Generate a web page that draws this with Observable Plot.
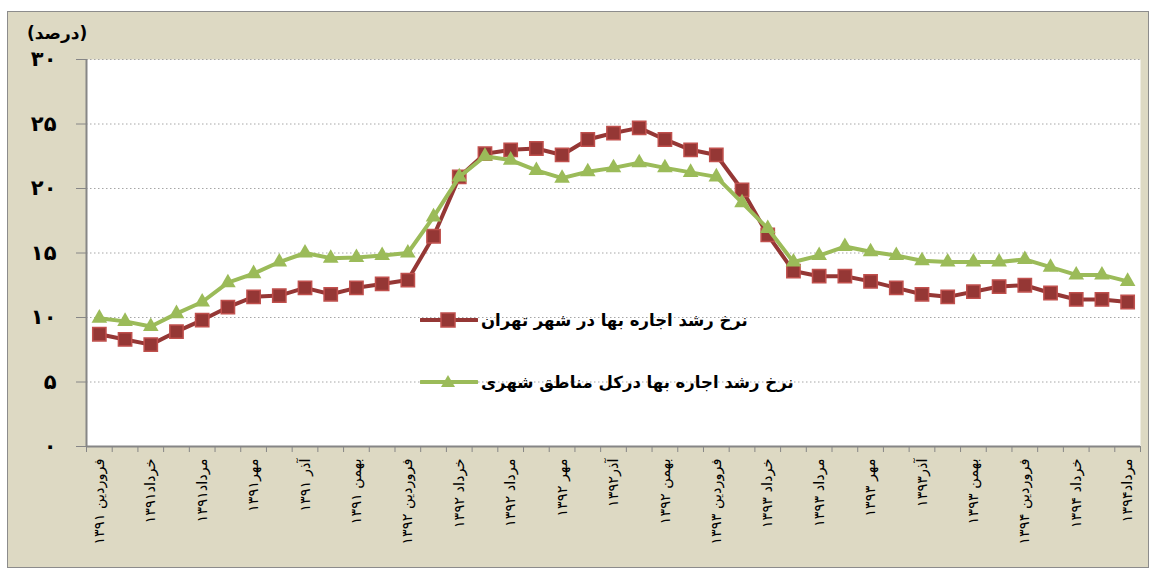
<!DOCTYPE html>
<html><head><meta charset="utf-8">
<script src="https://cdn.jsdelivr.net/npm/d3@7"></script>
<script src="https://cdn.jsdelivr.net/npm/@observablehq/plot@0.6"></script>
<style>
body{margin:0;background:#fff;font-family:"DejaVu Sans",sans-serif;}
#wrap{position:relative;width:1158px;height:572px;}
#bg{position:absolute;left:7px;top:11px;width:1140px;height:555px;background:#DDD9C3;border:1px solid #8C8C8C;}
#chart{position:absolute;left:0;top:0;}
#ylab{position:absolute;left:27px;top:23px;font-weight:bold;font-size:17px;direction:rtl;color:#000;}
.leg{position:absolute;left:420px;display:flex;align-items:center;font-weight:bold;font-size:16.5px;color:#000;}
.leg span{direction:rtl;margin-left:3px;}
</style></head>
<body>
<div id="wrap">
  <div id="bg"></div>
  <div id="chart"></div>
  <div id="ylab">(درصد)</div>
  <div class="leg" id="leg1" style="top:310px;"></div>
  <div class="leg" id="leg2" style="top:372px;"></div>
</div>
<script>
const monthLabels = [
  "فروردین ۱۳۹۱","خرداد۱۳۹۱","مرداد۱۳۹۱","مهر۱۳۹۱","آذر ۱۳۹۱","بهمن ۱۳۹۱",
  "فروردین ۱۳۹۲","خرداد ۱۳۹۲","مرداد ۱۳۹۲","مهر ۱۳۹۲","آذر۱۳۹۲","بهمن ۱۳۹۲",
  "فروردین ۱۳۹۳","خرداد ۱۳۹۳","مرداد ۱۳۹۳","مهر ۱۳۹۳","آذر۱۳۹۳","بهمن ۱۳۹۳",
  "فروردین ۱۳۹۴","خرداد ۱۳۹۴","مرداد۱۳۹۴"
];
const seriesNames = ["نرخ رشد اجاره بها در شهر تهران", "نرخ رشد اجاره بها درکل مناطق شهری"];
const tehran = [8.7, 8.3, 7.9, 8.9, 9.8, 10.8, 11.6, 11.7, 12.3, 11.8, 12.3, 12.6, 12.9,
  16.3, 20.9, 22.7, 23.0, 23.1, 22.6, 23.8, 24.3, 24.7, 23.8, 23.0, 22.6, 19.9, 16.4,
  13.6, 13.2, 13.2, 12.8, 12.3, 11.8, 11.6, 12.0, 12.4, 12.5, 11.9, 11.4, 11.4, 11.2];
const urban = [9.95, 9.7, 9.3, 10.3, 11.2, 12.7, 13.4, 14.3, 15.0, 14.6, 14.65, 14.8, 15.0,
  17.8, 20.9, 22.5, 22.2, 21.4, 20.8, 21.3, 21.6, 22.0, 21.6, 21.25, 20.9, 18.9, 16.9,
  14.3, 14.8, 15.5, 15.1, 14.8, 14.4, 14.3, 14.3, 14.3, 14.5, 13.9, 13.3, 13.3, 12.8];
const yTicks = [0, 5, 10, 15, 20, 25, 30];

const RED = "#953735", RED_EDGE = "#C0504D", GREEN = "#9BBB59";
const toFa = s => String(s).replace(/\d/g, d => "۰۱۲۳۴۵۶۷۸۹"[d]);
const tData = tehran.map((v, i) => ({i, v}));
const uData = urban.map((v, i) => ({i, v}));
const n = tehran.length;

const chart = Plot.plot({
  width: 1158, height: 572,
  marginLeft: 86, marginRight: 18, marginTop: 59, marginBottom: 126,
  style: {background: "transparent", fontFamily: "DejaVu Sans"},
  x: {domain: [-0.5, n - 0.5], axis: null},
  y: {domain: [0, 30], axis: null},
  marks: [
    Plot.frame({fill: "white", stroke: null}),
    Plot.gridY(yTicks.slice(1), {stroke: "#a6a6a6", strokeOpacity: 1, strokeDasharray: "1.5,2.5"}),
    Plot.axisY({ticks: yTicks, tickSize: 10, tickPadding: 20, tickFormat: toFa, fontSize: 21, fontWeight: "bold", stroke: "#868686", label: null}),
    Plot.axisX({ticks: d3.range(-0.5, n, 1), tickSize: 6, tickFormat: () => "", stroke: "#868686", label: null}),
    Plot.axisX({ticks: d3.range(0, n, 2), tickSize: 0, tickPadding: 12, tickRotate: -90, tickFormat: i => monthLabels[i / 2], fontSize: 14.5, label: null}),
    Plot.ruleX([-0.5], {stroke: "#868686", strokeWidth: 2}),
    Plot.ruleY([0], {stroke: "#868686", strokeWidth: 2}),
    Plot.line(tData, {x: "i", y: "v", stroke: RED, strokeWidth: 4}),
    Plot.dot(tData, {x: "i", y: "v", symbol: "square", r: 7.5, fill: RED, stroke: RED_EDGE, strokeWidth: 1.5}),
    Plot.line(uData, {x: "i", y: "v", stroke: GREEN, strokeWidth: 4}),
    Plot.dot(uData, {x: "i", y: "v", symbol: "triangle", r: 5.8, fill: GREEN})
  ]
});
document.getElementById("chart").appendChild(chart);

function swatch(color, edge, sym) {
  const marker = sym === "square"
    ? `<rect x="21" y="3" width="14" height="14" fill="${color}" stroke="${edge}" stroke-width="1.5"/>`
    : `<path d="M28,3 L35,15 L21,15 Z" fill="${color}"/>`;
  return `<svg width="58" height="20"><line x1="1" y1="10" x2="57" y2="10" stroke="${color}" stroke-width="4" stroke-linecap="round"/>${marker}</svg>`;
}
document.getElementById("leg1").innerHTML = swatch(RED, RED_EDGE, "square") + `<span>${seriesNames[0]}</span>`;
document.getElementById("leg2").innerHTML = swatch(GREEN, GREEN, "triangle") + `<span>${seriesNames[1]}</span>`;
</script>
</body></html>
